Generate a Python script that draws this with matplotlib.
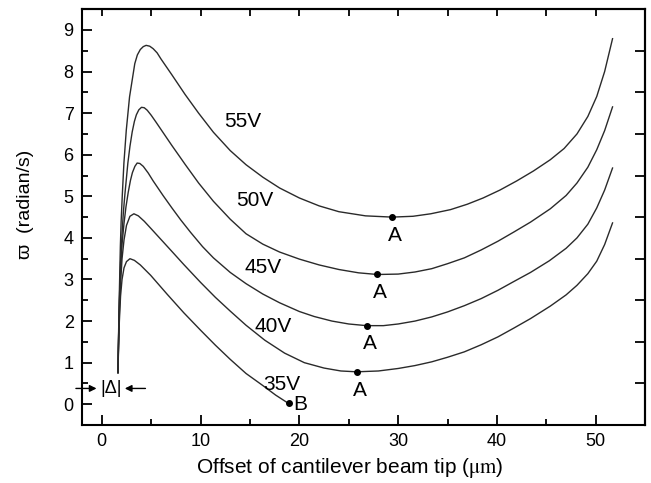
import numpy as np
import matplotlib
matplotlib.use('Agg')
import matplotlib.pyplot as plt
from matplotlib.ticker import MultipleLocator, FixedLocator, NullFormatter

plt.rcParams.update({'font.family': ['Liberation Sans', 'DejaVu Sans'], 'font.size': 13,
                     'mathtext.fontset': 'stix'})

# ---- curves (offset in um, omega in rad/s) ----
x35 = [1.64, 1.70, 1.78, 1.90, 2.05, 2.25, 2.5, 2.85, 3.3, 3.9, 4.95, 6.6, 8.3, 10.0, 11.5,
       13.0, 14.6, 16.3, 17.6, 18.9]
y35 = [0.76, 1.4, 2.0, 2.6, 3.0, 3.28, 3.43, 3.5, 3.46, 3.35, 3.1, 2.65, 2.2, 1.78, 1.42,
       1.08, 0.74, 0.45, 0.22, 0.02]

x40 = [1.64, 1.70, 1.78, 1.90, 2.05, 2.25, 2.5, 2.85, 3.25, 3.7, 4.3, 5.0, 6.0, 7.0, 8.3,
       10.0, 11.5, 13.0, 14.6, 16.5, 18.5, 20.5, 22.5, 24.2, 25.8, 28.0, 30.0, 31.7, 33.4,
       35.0, 36.7, 38.4, 40.1, 41.7, 43.4, 45.4, 47.0, 48.1, 49.2, 50.1, 50.9, 51.7]
y40 = [0.76, 1.5, 2.2, 2.9, 3.5, 3.95, 4.3, 4.52, 4.58, 4.53, 4.4, 4.22, 3.96, 3.7, 3.36,
       2.93, 2.57, 2.24, 1.9, 1.54, 1.23, 1.0, 0.87, 0.8, 0.78, 0.8, 0.86, 0.93, 1.02,
       1.13, 1.26, 1.43, 1.62, 1.83, 2.06, 2.36, 2.63, 2.86, 3.14, 3.44, 3.84, 4.36]

x45 = [1.64, 1.70, 1.78, 1.90, 2.05, 2.25, 2.45, 2.68, 2.9, 3.1, 3.35, 3.58, 3.85, 4.2, 4.7,
       5.2, 6.2, 7.1, 8.0, 9.0, 10.2, 11.3, 13.0, 14.6, 16.3, 18.0, 20.0, 21.5, 23.3, 25.0,
       26.8, 28.5, 30.0, 31.7, 33.4, 35.0, 36.7, 38.4, 40.1, 41.7, 43.4, 45.3, 47.0, 48.1,
       49.2, 50.1, 50.9, 51.7]
y45 = [0.76, 1.6, 2.4, 3.2, 3.85, 4.35, 4.75, 5.1, 5.38, 5.57, 5.72, 5.8, 5.79, 5.72, 5.56,
       5.37, 5.02, 4.72, 4.43, 4.13, 3.79, 3.52, 3.17, 2.9, 2.65, 2.44, 2.23, 2.11, 2.0, 1.93,
       1.89, 1.89, 1.93, 2.0, 2.1, 2.22, 2.37, 2.54, 2.74, 2.95, 3.17, 3.45, 3.75, 4.0,
       4.33, 4.72, 5.15, 5.68]

x50 = [1.64, 1.70, 1.78, 1.90, 2.05, 2.18, 2.34, 2.64, 2.85, 3.08, 3.3, 3.5, 3.75, 4.02, 4.3,
       4.6, 5.0, 5.5, 6.3, 7.1, 7.93, 8.43, 9.8, 11.3, 13.0, 14.6, 16.3, 18.0, 20.0, 22.0,
       24.0, 26.0, 27.9, 30.0, 31.7, 33.4, 35.0, 36.7, 38.4, 40.1, 41.7, 43.4, 45.4, 47.0,
       48.1, 49.2, 50.1, 50.9, 51.7]
y50 = [0.76, 1.6, 2.5, 3.4, 4.1, 4.6, 5.05, 5.8, 6.2, 6.55, 6.8, 6.96, 7.08, 7.14, 7.13,
       7.07, 6.95, 6.78, 6.5, 6.22, 5.94, 5.77, 5.32, 4.88, 4.45, 4.1, 3.85, 3.66, 3.49, 3.35,
       3.24, 3.16, 3.12, 3.13, 3.18, 3.26, 3.38, 3.52, 3.71, 3.92, 4.14, 4.38, 4.7, 5.02,
       5.32, 5.7, 6.12, 6.58, 7.15]

x55 = [1.64, 1.70, 1.78, 1.88, 1.96, 2.07, 2.24, 2.48, 2.81, 3.34, 3.6, 3.9, 4.2, 4.49, 4.85,
       5.2, 5.6, 6.0, 7.1, 8.43, 9.8, 11.3, 13.0, 14.6, 16.3, 18.0, 20.0, 22.0, 24.0, 26.7,
       29.4, 31.5, 33.3, 35.3, 37.0, 38.6, 40.3, 42.0, 43.7, 45.4, 46.8, 48.1, 49.2, 50.1,
       50.9, 51.7]
y55 = [0.76, 1.7, 2.7, 3.8, 4.4, 5.0, 5.8, 6.59, 7.39, 8.19, 8.40, 8.53, 8.60, 8.63, 8.61,
       8.55, 8.45, 8.30, 7.92, 7.45, 7.0, 6.54, 6.1, 5.76, 5.46, 5.2, 4.96, 4.77, 4.63, 4.53,
       4.5, 4.52, 4.58, 4.68, 4.81, 4.96, 5.15, 5.37, 5.61, 5.88, 6.15, 6.5, 6.92, 7.4,
       8.0, 8.79]

curves = [(x35, y35), (x40, y40), (x45, y45), (x50, y50), (x55, y55)]

voltages = ['35V', '40V', '45V', '50V', '55V']
label_x = [18.2, 17.3, 16.3, 15.5, 14.3]
label_y = [0.48, 1.87, 3.28, 4.9, 6.8]

# minimum points A (40V..55V) and end point B (35V)
ax_pts = [25.8, 26.8, 27.9, 29.4]
ay_pts = [0.78, 1.89, 3.12, 4.5]
bx, by = 18.9, 0.02

fig = plt.figure(figsize=(6.51, 4.83), dpi=100)
ax = fig.add_axes([0.126, 0.12, 0.865, 0.861])

for xs, ys in curves:
    ax.plot(xs, ys, color='#2a2a2a', lw=1.0)

ax.plot(ax_pts, ay_pts, 'o', color='black', ms=4)
ax.plot([bx], [by], 'o', color='black', ms=4)
for x, y in zip(ax_pts, ay_pts):
    ax.text(x + 0.3, y - 0.44, 'A', ha='center', va='center', fontsize=15)
ax.text(bx + 0.5, by - 0.02, 'B', ha='left', va='center', fontsize=15)

for v, x, y in zip(voltages, label_x, label_y):
    ax.text(x, y, v, ha='center', va='center', fontsize=15)

# Delta marker for the initial offset
ax.annotate('', xy=(-0.25, 0.38), xytext=(-2.9, 0.38), annotation_clip=False,
            arrowprops=dict(arrowstyle='-|>', color='black', lw=1, mutation_scale=10))
ax.annotate('', xy=(2.05, 0.38), xytext=(4.7, 0.38),
            arrowprops=dict(arrowstyle='-|>', color='black', lw=1, mutation_scale=10))
ax.text(0.9, 0.38, '|Δ|', ha='center', va='center', fontsize=13)

ax.set_xlim(-2, 55)
ax.set_ylim(-0.5, 9.5)
ax.xaxis.set_major_locator(MultipleLocator(10))
ax.xaxis.set_minor_locator(MultipleLocator(5))
ax.yaxis.set_major_locator(MultipleLocator(1))
ax.yaxis.set_minor_locator(MultipleLocator(0.5))
ax.tick_params(which='both', direction='in', width=1.3)
ax.tick_params(which='major', length=7, labelsize=13, pad=6)
ax.tick_params(which='minor', length=4)
for s in ax.spines.values():
    s.set_linewidth(1.5)

# top and right frame ticks
top = ax.secondary_xaxis('top')
top.xaxis.set_major_locator(MultipleLocator(5))
top.xaxis.set_major_formatter(NullFormatter())
top.tick_params(direction='in', length=5, width=1.3)
right = ax.secondary_yaxis('right')
right.yaxis.set_major_locator(FixedLocator(np.arange(0.5, 9.0, 1.0)))
right.yaxis.set_major_formatter(NullFormatter())
right.tick_params(direction='in', length=7, width=1.3)
for sa in (top, right):
    for s in sa.spines.values():
        s.set_linewidth(1.5)

ax.set_xlabel(r'Offset of cantilever beam tip ($\mathrm{\mu m}$)', fontsize=15)
ax.xaxis.set_label_coords(0.475, -0.075)
ax.set_ylabel('ϖ  (radian/s)', fontsize=14)
ax.yaxis.set_label_coords(-0.085, 0.53)

fig.savefig('out.png', dpi=100)
